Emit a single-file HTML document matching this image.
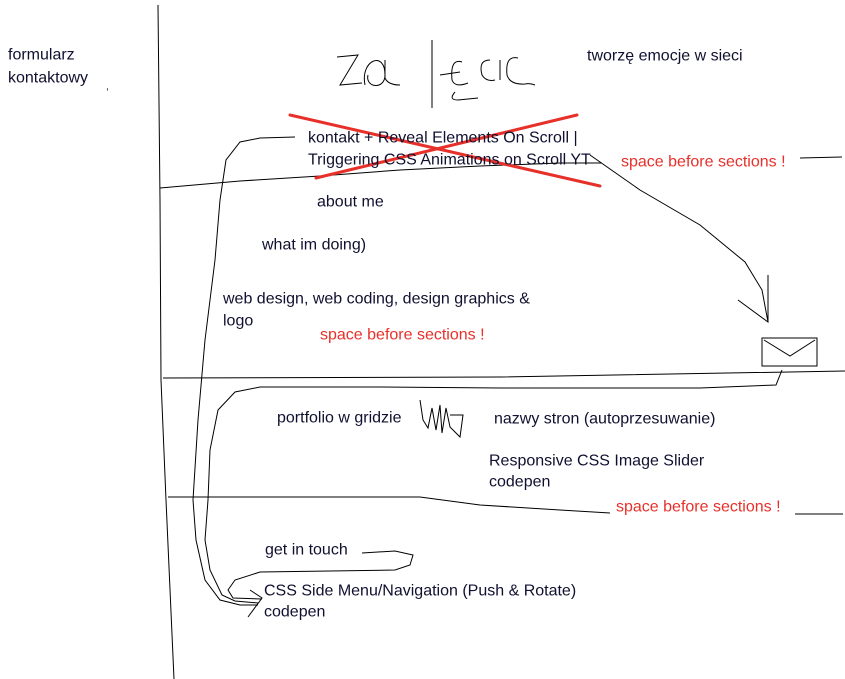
<!DOCTYPE html>
<html><head><meta charset="utf-8"><style>
html,body{margin:0;padding:0;background:#fff;}
svg{display:block;}
text{font-family:"Liberation Sans","DejaVu Sans",sans-serif;font-size:16px;fill:#101030;dominant-baseline:central;}
.r{fill:#e8302a;}
</style></head><body>
<svg width="845" height="679" viewBox="0 0 845 679" xmlns="http://www.w3.org/2000/svg">
<g fill="none" stroke="#000" stroke-width="1">
<polyline points="158,5 160,200 161,380 166,500 174,679"/>
<polyline points="160,188 240,181 320,176 400,170 480,166 560,163 602,163"/>
<polyline points="800,158 842,157"/>
<polyline points="163,378 500,377 845,371"/>
<polyline points="168,497 420,497 480,505 560,510 610,513"/>
<polyline points="795,514 843,514"/>
<polyline points="295,137 260,138 240,142 226,160 220,200 215,260 205,340 198,420 193,500 196,540 205,580 220,600 240,605 258,605"/>
<polyline points="782,370 776,385 700,388 610,388 500,388 380,387 260,387 235,392 218,410 210,450 208,500 205,540 210,570 222,595 235,601 258,603"/>
<polyline points="362,553 395,551 413,555 410,565 395,570 330,571 260,572 235,580 228,590 233,598 262,599"/>
<polyline points="250,590 262,598 248,617"/>
<polyline points="590,155 600,162 640,190 700,225 745,262 762,290 768,322"/>
<polyline points="738,300 768,322 768,275"/>
<rect x="762" y="338" width="55" height="28"/>
<polyline points="764,340 790,356 815,340"/>
<polyline points="337,57 358,55 340,85 362,83"/>
<path d="M365,85 C360,60 385,50 385,75 C385,90 365,88 368,75 M385,60 L385,78 Q388,85 400,85"/>
<polyline points="432,40 432,108"/>
<polyline points="440,75 460,72"/>
<path d="M462,62 Q450,58 452,80 Q455,88 468,83 M455,92 Q448,100 458,100 L478,98"/>
<path d="M490,60 Q478,60 482,75 Q486,82 495,80 M500,60 L500,80 M518,58 Q505,55 507,75 Q510,85 525,84 Q530,83 535,85"/>
<polyline points="420,400 423,420 428,428 432,408 436,430 440,405 442,433 446,408 450,427 460,437 463,415 450,415"/>
</g>
<g stroke="#e8302a" stroke-width="3" fill="none" stroke-linecap="round">
<line x1="290" y1="115" x2="600" y2="186"/>
<line x1="577" y1="115" x2="316" y2="178"/>
</g>
<text x="8" y="55">formularz</text>
<text x="8" y="78">kontaktowy</text>
<text x="106" y="87" style="font-size:10px">,</text>
<text x="587" y="56">tworzę emocje w sieci</text>
<text x="308" y="138">kontakt + Reveal Elements On Scroll |</text>
<text x="308" y="160">Triggering CSS Animations on Scroll YT</text>
<text x="621" y="162" class="r">space before sections !</text>
<text x="317" y="202">about me</text>
<text x="262" y="245">what im doing)</text>
<text x="223" y="299">web design, web coding, design graphics &amp;</text>
<text x="223" y="321">logo</text>
<text x="320" y="335" class="r">space before sections !</text>
<text x="277" y="418">portfolio w gridzie</text>
<text x="494" y="419">nazwy stron (autoprzesuwanie)</text>
<text x="489" y="461">Responsive CSS Image Slider</text>
<text x="489" y="482">codepen</text>
<text x="616" y="507" class="r">space before sections !</text>
<text x="265" y="550">get in touch</text>
<text x="264" y="591">CSS Side Menu/Navigation (Push &amp; Rotate)</text>
<text x="264" y="612">codepen</text>
</svg>
</body></html>
